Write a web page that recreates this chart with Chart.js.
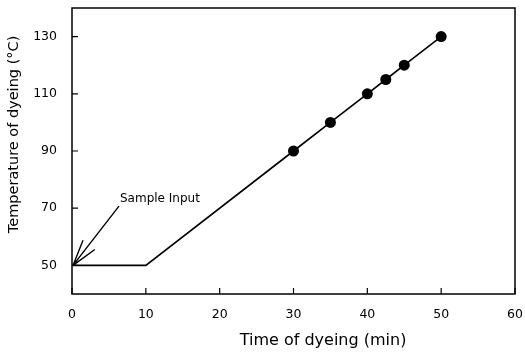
<!DOCTYPE html>
<html>
<head>
<meta charset="utf-8">
<script src="https://cdn.jsdelivr.net/npm/chart.js@4/dist/chart.umd.min.js"></script>
<style>
  html, body { margin: 0; padding: 0; background: #fff; }
  #wrap { width: 525px; height: 356px; }
</style>
</head>
<body>
<div id="wrap"><canvas id="c"></canvas></div>
<script>
// Dyeing temperature programme: hold at 50 °C, then ramp 2 °C/min
const profileTime = [0, 10, 30, 35, 40, 42.5, 45, 50];
const profileTemp = [50, 50, 90, 100, 110, 115, 120, 130];
// Times at which samples were taken
const sampleTime = [30, 35, 40, 42.5, 45, 50];
const sampleTemp = [90, 100, 110, 115, 120, 130];
const xTicks = [0, 10, 20, 30, 40, 50, 60];
const yTicks = [50, 70, 90, 110, 130];
const xTitle = 'Time of dyeing (min)';
const yTitle = 'Temperature of dyeing (\u00B0C)';
// Label and arrow for the sample input point
const noteText = 'Sample Input';
const noteAt = { x: 6.5, y: 72.8 };
const arrowTo = { x: 0, y: 50 };

const FONT = '"DejaVu Sans", Arial, Helvetica, sans-serif';

const frame = {
  id: 'frame',
  afterDraw(chart) {
    const { ctx, chartArea: a, scales: { x, y } } = chart;
    ctx.save();
    ctx.strokeStyle = '#000';
    ctx.lineWidth = 1.5;
    ctx.strokeRect(a.left, a.top, a.right - a.left, a.bottom - a.top);
    // inward ticks
    ctx.lineWidth = 1.2;
    ctx.beginPath();
    xTicks.forEach(v => {
      const px = x.getPixelForValue(v);
      ctx.moveTo(px, a.bottom); ctx.lineTo(px, a.bottom - 6);
    });
    yTicks.forEach(v => {
      const py = y.getPixelForValue(v);
      ctx.moveTo(a.left, py); ctx.lineTo(a.left + 6, py);
    });
    ctx.stroke();

    // axis titles (set slightly off-centre)
    ctx.fillStyle = '#000';
    ctx.textAlign = 'center';
    ctx.textBaseline = 'middle';
    ctx.font = '16px ' + FONT;
    ctx.fillText(xTitle, x.getPixelForValue(34), a.bottom + 47);
    ctx.save();
    ctx.translate(14, y.getPixelForValue(95.8));
    ctx.rotate(-Math.PI / 2);
    ctx.font = '14.5px ' + FONT;
    ctx.fillText(yTitle, 0, 0);
    ctx.restore();

    // annotation
    const tx = x.getPixelForValue(noteAt.x), ty = y.getPixelForValue(noteAt.y);
    const ex = x.getPixelForValue(arrowTo.x) + 1, ey = y.getPixelForValue(arrowTo.y);
    ctx.font = '12px ' + FONT;
    ctx.textAlign = 'left';
    ctx.fillText(noteText, tx, ty - 1);
    const sx = tx - 1, sy = ty + 6;
    ctx.lineWidth = 1.4;
    ctx.beginPath();
    ctx.moveTo(sx, sy); ctx.lineTo(ex, ey);
    const ang = Math.atan2(ey - sy, ex - sx);
    const L = 27, spread = 0.28;
    ctx.moveTo(ex, ey);
    ctx.lineTo(ex - L * Math.cos(ang - spread), ey - L * Math.sin(ang - spread));
    ctx.moveTo(ex, ey);
    ctx.lineTo(ex - L * Math.cos(ang + spread), ey - L * Math.sin(ang + spread));
    ctx.stroke();
    ctx.restore();
  }
};

new Chart(document.getElementById('c'), {
  type: 'scatter',
  data: {
    datasets: [
      {
        data: profileTime.map((t, i) => ({ x: t, y: profileTemp[i] })),
        showLine: true,
        borderColor: '#000',
        borderWidth: 1.6,
        pointRadius: 0,
        fill: false,
        tension: 0
      },
      {
        data: sampleTime.map((t, i) => ({ x: t, y: sampleTemp[i] })),
        showLine: false,
        pointRadius: 5.5,
        pointBackgroundColor: '#000',
        pointBorderColor: '#000',
        pointBorderWidth: 0
      }
    ]
  },
  options: {
    responsive: true,
    maintainAspectRatio: false,
    animation: false,
    layout: { padding: { top: 8, right: 10, left: 0, bottom: 0 } },
    plugins: { legend: { display: false }, tooltip: { enabled: false } },
    scales: {
      x: {
        type: 'linear',
        min: 0, max: 60,
        afterBuildTicks: s => { s.ticks = xTicks.map(v => ({ value: v })); },
        afterFit: s => { s.height = 62; s.paddingLeft = 0; s.paddingRight = 0; },
        grid: { display: false },
        border: { display: false },
        ticks: { color: '#000', font: { family: FONT, size: 12.5 }, padding: 5, maxRotation: 0 },
        title: { display: false, text: xTitle }
      },
      y: {
        type: 'linear',
        min: 40, max: 140,
        afterBuildTicks: s => { s.ticks = yTicks.map(v => ({ value: v })); },
        afterFit: s => { s.width = 72; s.paddingTop = 0; s.paddingBottom = 0; },
        grid: { display: false },
        border: { display: false },
        ticks: { color: '#000', font: { family: FONT, size: 12.5 }, padding: 7 },
        title: { display: false, text: yTitle }
      }
    }
  },
  plugins: [frame]
});
</script>
</body>
</html>
